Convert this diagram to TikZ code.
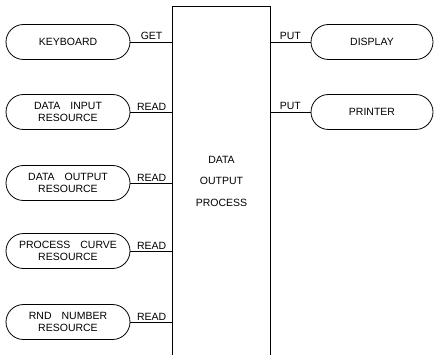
\documentclass[tikz,border=0pt]{standalone}
\usepackage{fontspec}
\setmainfont{Liberation Sans}
\usetikzlibrary{shapes.misc}
\newcommand{\wgap}{\hspace{10pt}}
\begin{document}
\begin{tikzpicture}[x=1pt,y=-1pt,
  txt/.style={font=\fontsize{10.5}{12}\selectfont},
  pill/.style={draw, line width=0.8pt, rounded rectangle, minimum width=124pt, minimum height=35pt, inner sep=0pt, align=center, txt},
  conn/.style={draw, line width=0.8pt},
  lbl/.style={txt, inner sep=1.5pt, above}
]
\useasboundingbox (0,0) rectangle (435,355);
% process box
\node[draw=none, minimum width=97pt, minimum height=348pt, inner sep=0pt, align=center,
  font=\fontsize{10.5}{21.5}\selectfont] (proc) at (221.5,181) {DATA\\OUTPUT\\PROCESS};
\draw[line width=0.8pt] (proc.south west) -- (proc.north west) -- (proc.north east) -- (proc.south east);
% left pills
\node[pill] (kb) at (68,42) {KEYBOARD};
\node[pill] (dir) at (68,112) {DATA\wgap INPUT\\RESOURCE};
\node[pill] (dor) at (68,183) {DATA\wgap OUTPUT\\RESOURCE};
\node[pill] (pcr) at (68,251) {PROCESS\wgap CURVE\\RESOURCE};
\node[pill] (rnr) at (68,322) {RND\wgap NUMBER\\RESOURCE};
% right pills
\node[pill, minimum width=122pt] (disp) at (372,42) {DISPLAY};
\node[pill, minimum width=122pt] (prn) at (372,112) {PRINTER};
% connectors
\draw[conn] (kb.east) -- (kb.east -| proc.west) node[lbl, midway] {GET};
\draw[conn] (dir.east) -- (dir.east -| proc.west) node[lbl, midway] {READ};
\draw[conn] (dor.east) -- (dor.east -| proc.west) node[lbl, midway] {READ};
\draw[conn] (pcr.east) -- (pcr.east -| proc.west) node[lbl, midway] {READ};
\draw[conn] (rnr.east) -- (rnr.east -| proc.west) node[lbl, midway] {READ};
\draw[conn] (disp.west -| proc.east) -- (disp.west) node[lbl, midway] {PUT};
\draw[conn] (prn.west -| proc.east) -- (prn.west) node[lbl, midway] {PUT};
\end{tikzpicture}
\end{document}
